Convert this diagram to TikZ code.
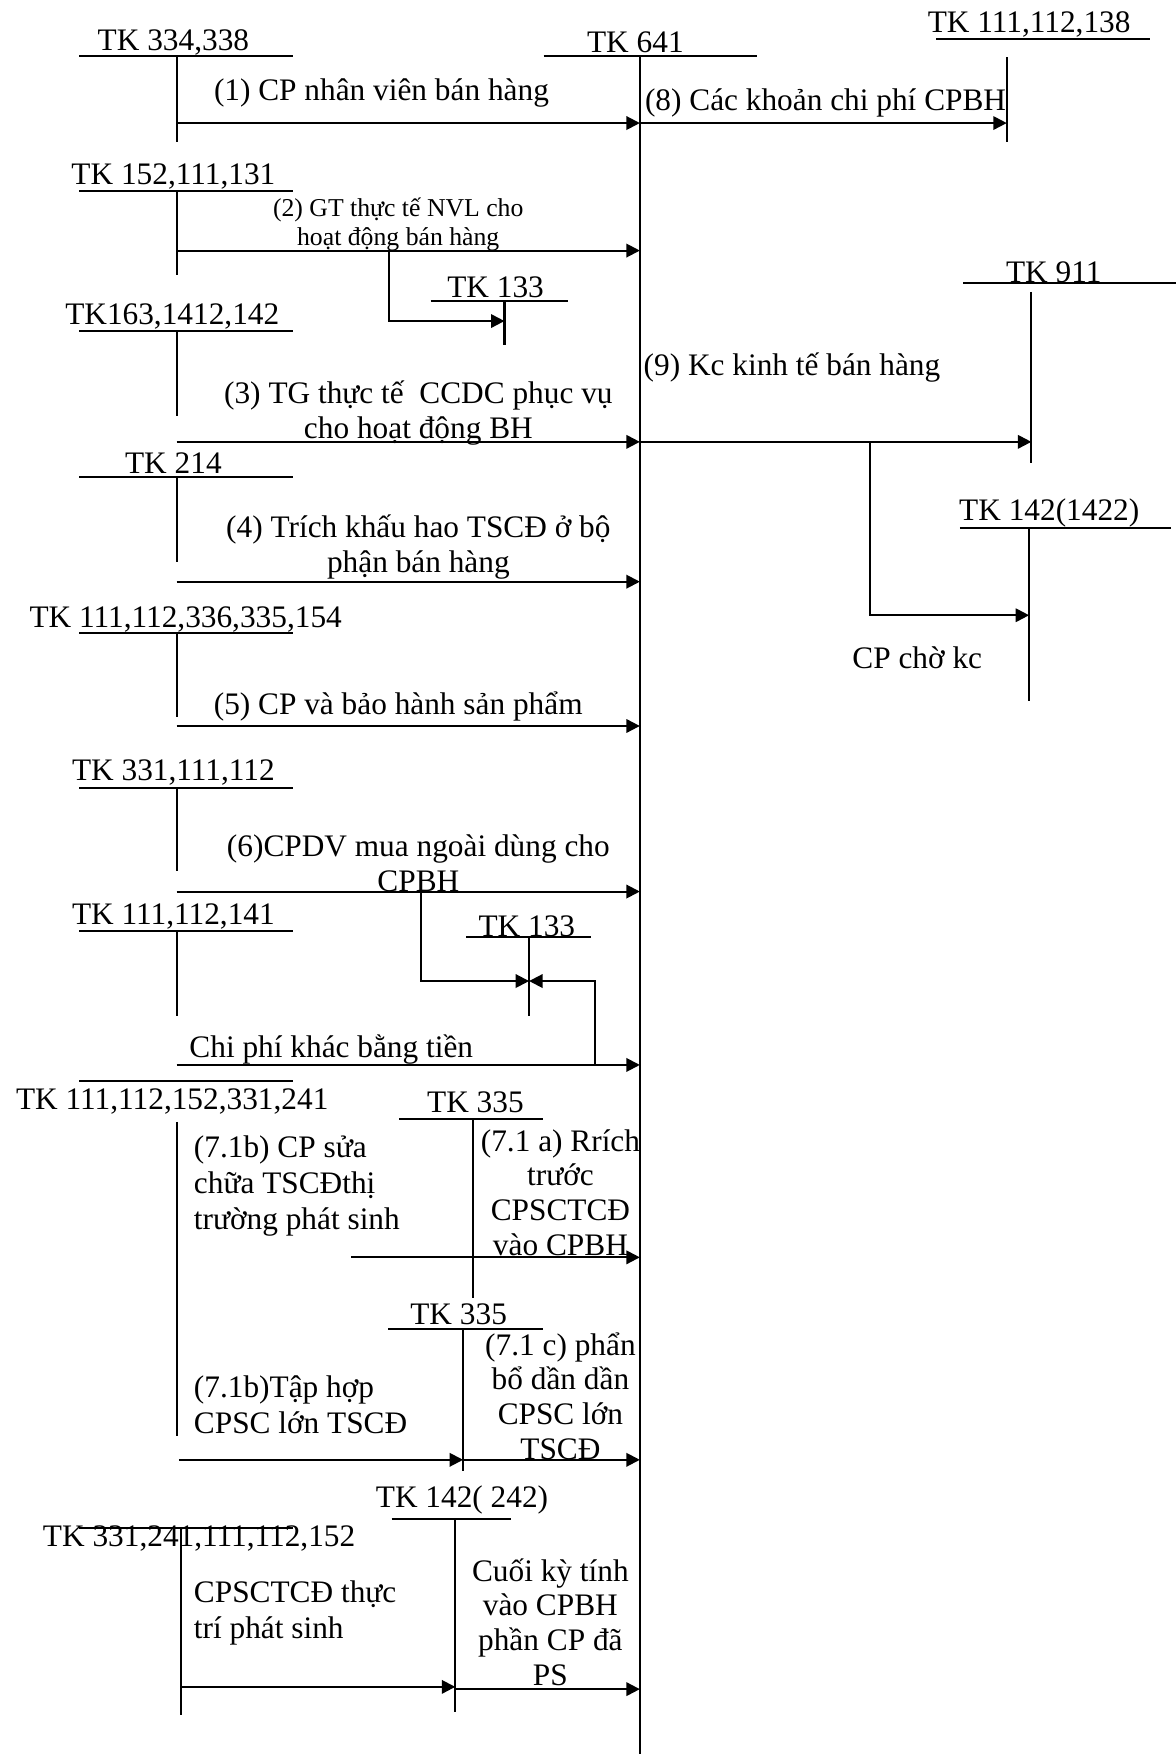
\documentclass[tikz,border=0pt]{standalone}
\usepackage{fontspec}
\setmainfont{Liberation Serif}
\usetikzlibrary{arrows.meta}

\begin{document}
\begin{tikzpicture}[x=0.5pt,y=-0.5pt,
        tline/.style={line width=0.9pt},
        flow/.style={line width=0.9pt,-{Triangle[length=6pt,width=6pt]}},
        acct/.style={inner sep=0pt},
        note/.style={inner sep=0pt,align=center,font=\fontsize{14}{15.5}\selectfont},
        notesmall/.style={inner sep=0pt,align=center,font=\fontsize{11.5}{13}\selectfont},
        noteleft/.style={inner sep=0pt,align=left,anchor=west,font=\fontsize{14}{16}\selectfont}]
        \tikzstyle{every node}=[font=\fontsize{14}{16}\selectfont]
        \useasboundingbox (0,0) rectangle (1051,1568);

        % TK 641
        \node[acct] (t641) at (568,38) {TK 641};
        \draw [tline] (486,50) -- (677,50);
        \coordinate (k641) at (572,50);
        \coordinate (k641end) at (572,1568);
        \draw [tline] (k641) -- (k641end);

        % (1)
        \node[acct] (t334) at (155,38) {TK 334,338};
        \draw [tline] (71,50) -- (262,50);
        \draw [tline] (158,50) -- (158,127);
        \coordinate (a1) at (158,110);
        \draw [flow] (a1) -- (a1 -| k641);
            \node[acct] (l1) at (341,83) {(1) CP nhân viên bán hàng};

        % (8)
        \node[acct] (t111a) at (920,22) {TK 111,112,138};
        \draw [tline] (837,35) -- (1028,35);
        \coordinate (k111a) at (900,51);
        \draw [tline] (k111a) -- (900,127);
        \coordinate (a8) at (572,110);
        \draw [flow] (a8) -- (a8 -| k111a);
            \node[acct] (l8) at (738,92) {(8) Các khoản chi phí CPBH};

        % (2)
        \node[acct] (t152) at (155,158) {TK 152,111,131};
        \draw [tline] (71,171) -- (262,171);
        \draw [tline] (158,171) -- (158,246);
        \coordinate (a2) at (158,224);
        \draw [flow] (a2) -- (a2 -| k641);
            \node[notesmall] (l2) at (356,201) {(2) GT thực tế NVL cho\\hoạt động bán hàng};
        \node[acct] (t133a) at (443,257) {TK 133};
        \draw [tline] (385,269) -- (508,269);
        \draw [tline] (451,269) -- (451,308);
        \coordinate (b2) at (348,224);
        \coordinate (v133a) at (451,287);
        \draw [flow] (b2) |- (v133a);

        % (3)
        \node[acct] (t163) at (154,283) {TK163,1412,142};
        \draw [tline] (71,296) -- (262,296);
        \draw [tline] (158,296) -- (158,372);
        \coordinate (a3) at (158,395);
        \draw [flow] (a3) -- (a3 -| k641);
            \node[note] (l3) at (374,369) {(3) TG thực tế~ CCDC phục vụ\\cho hoạt động BH};

        % (9)
        \node[acct] (t911) at (942,243) {TK 911};
        \draw [tline] (861,253) -- (1051,253);
        \coordinate (k911) at (922,261);
        \draw [tline] (k911) -- (922,414);
        \coordinate (a9) at (572,395);
        \draw [flow] (a9) -- (a9 -| k911);
            \node[acct] (l9) at (708,329) {(9) Kc kinh tế bán hàng};
        \node[acct] (t1422) at (938,459) {TK 142(1422)};
        \draw [tline] (858,472) -- (1047,472);
        \draw [tline] (920,472) -- (920,627);
        \coordinate (b9) at (778,395);
        \coordinate (v1422) at (920,550);
        \draw [flow] (b9) |- (v1422);
            \node[acct] (l9b) at (820,588) {CP chờ kc};

        % (4)
        \node[acct] (t214) at (155,414) {TK 214};
        \draw [tline] (71,426) -- (262,426);
        \draw [tline] (158,426) -- (158,502);
        \coordinate (a4) at (158,520);
        \draw [flow] (a4) -- (a4 -| k641);
            \node[note] (l4) at (374,489) {(4) Trích khấu hao TSCĐ ở bộ\\phận bán hàng};

        % (5)
        \node[acct] (t336) at (166,554) {TK 111,112,336,335,154};
        \draw [tline] (71,566) -- (262,566);
        \draw [tline] (158,566) -- (158,641);
        \coordinate (a5) at (158,649);
        \draw [flow] (a5) -- (a5 -| k641);
            \node[acct] (l5) at (356,632) {(5) CP và bảo hành sản phẩm};

        % (6)
        \node[acct] (t331a) at (155,691) {TK 331,111,112};
        \draw [tline] (71,704) -- (262,704);
        \draw [tline] (158,704) -- (158,779);
        \coordinate (a6) at (158,797);
        \draw [flow] (a6) -- (a6 -| k641);
            \node[note] (l6) at (374,772) {(6)CPDV mua ngoài dùng cho\\CPBH};
        \node[acct] (t133b) at (471,828) {TK 133};
        \draw [tline] (417,838) -- (528,838);
        \draw [tline] (473,838) -- (473,908);
        \coordinate (b6) at (376,797);
        \coordinate (v133b) at (473,877);
        \draw [flow] (b6) |- (v133b);

        % chi phi khac
        \node[acct] (t141) at (155,819) {TK 111,112,141};
        \draw [tline] (71,832) -- (262,832);
        \draw [tline] (158,832) -- (158,908);
        \coordinate (a7) at (158,952);
        \draw [flow] (a7) -- (a7 -| k641);
            \node[noteleft] (l7) at (169,938) {Chi phí khác bằng tiền};
        \coordinate (b7) at (532,952);
        \draw [flow] (b7) |- (v133b);

        % (7.1)
        \draw [tline] (71,966) -- (262,966);
        \node[acct] (t241) at (154,985) {TK 111,112,152,331,241};
        \draw [tline] (158,1003) -- (158,1284);
            \node[noteleft] (l71b) at (173,1060) {(7.1b) CP sửa\\chữa TSCĐthị\\trường phát sinh};
        \node[acct] (t335a) at (425,985) {TK 335};
        \draw [tline] (357,1000) -- (485,1000);
        \draw [tline] (423,1000) -- (423,1160);
        \coordinate (a71a) at (314,1124);
        \draw [flow] (a71a) -- (a71a -| k641);
            \node[note] (l71a) at (501,1066) {(7.1 a) Rrích\\trước\\CPSCTCĐ\\vào CPBH};

        \node[acct] (t335b) at (410,1175) {TK 335};
        \draw [tline] (347,1188) -- (485,1188);
        \coordinate (k335b) at (414,1188);
        \draw [tline] (k335b) -- (414,1315);
            \node[noteleft] (l71t) at (173,1256) {(7.1b)Tập hợp\\CPSC lớn TSCĐ};
        \coordinate (a71t) at (160,1305);
        \coordinate (a71c) at (414,1305);
        \draw [flow] (a71t) -- (a71c);
        \draw [flow] (a71c) -- (a71c -| k641);
            \node[note] (l71c) at (501,1248) {(7.1 c) phẩn\\bổ dần dần\\CPSC lớn\\TSCĐ};

        % TK 142(242)
        \node[acct] (t242) at (413,1341) {TK 142( 242)};
        \draw [tline] (350,1358) -- (457,1358);
        \draw [tline] (407,1358) -- (407,1530);
        \node[acct] (t331b) at (178,1375) {TK 331,241,111,112,152};
        \draw [tline] (71,1366) -- (262,1366);
        \draw [tline] (162,1366) -- (162,1533);
            \node[noteleft] (l242) at (173,1442) {CPSCTCĐ thực\\trí phát sinh};
        \coordinate (a242) at (162,1508);
        \coordinate (k242) at (407,1508);
        \draw [flow] (a242) -- (k242);
        \coordinate (a242b) at (407,1510);
        \draw [flow] (a242b) -- (a242b -| k641);
            \node[note] (l242b) at (492,1450) {Cuối kỳ tính\\vào CPBH\\phần CP đã\\PS};
\end{tikzpicture}
\end{document}
